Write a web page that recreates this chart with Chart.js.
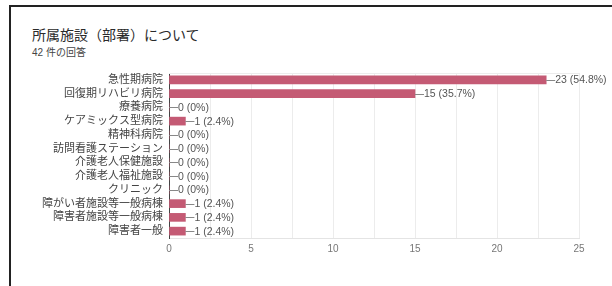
<!DOCTYPE html>
<html>
<head>
<meta charset="utf-8">
<script src="https://cdn.jsdelivr.net/npm/chart.js@4"></script>
<style>
  html, body { margin: 0; padding: 0; background: #fff; }
  body { width: 612px; height: 286px; position: relative; overflow: hidden;
         font-family: "Liberation Sans", "Noto Sans CJK JP", sans-serif; }
  .frame { position: absolute; left: 9px; top: 5px; width: 620px; height: 300px;
           border-top: 2px solid #222; border-left: 2px solid #222; }
  .title { position: absolute; left: 32px; top: 24px; font-size: 14px; color: #2a2a2a; }
  .sub { position: absolute; left: 32px; top: 44px; font-size: 10px; color: #444; }
  #wrap { position: absolute; left: 0; top: 0; width: 612px; height: 286px; }
</style>
</head>
<body>
<div class="frame"></div>
<div class="title">所属施設（部署）について</div>
<div class="sub">42 件の回答</div>
<div id="wrap"><canvas id="chart"></canvas></div>
<script>
/* ── data ── */
const categories = [
  '急性期病院', '回復期リハビリ病院', '療養病院', 'ケアミックス型病院', '精神科病院',
  '訪問看護ステーション', '介護老人保健施設', '介護老人福祉施設', 'クリニック',
  '障がい者施設等一般病棟', '障害者施設等一般病棟', '障害者一般'
];
const counts = [23, 15, 0, 1, 0, 0, 0, 0, 0, 1, 1, 1];
const totalResponses = 42;
const xTicks = [0, 5, 10, 15, 20, 25];

const FONT = '"Liberation Sans", "Noto Sans CJK JP", sans-serif';

// "23 (54.8%)" labels with a short leader line after each bar
const valueLabels = {
  id: 'valueLabels',
  afterDatasetsDraw(chart) {
    const ctx = chart.ctx;
    const meta = chart.getDatasetMeta(0);
    ctx.save();
    ctx.font = '10.5px ' + FONT;
    ctx.textBaseline = 'middle';
    meta.data.forEach((bar, i) => {
      const v = counts[i];
      const pct = parseFloat((v / totalResponses * 100).toFixed(1));
      const x = bar.x, y = bar.y;
      ctx.strokeStyle = '#888';
      ctx.lineWidth = 1;
      ctx.beginPath();
      ctx.moveTo(x, Math.round(y) + 0.5);
      ctx.lineTo(x + 9, Math.round(y) + 0.5);
      ctx.stroke();
      ctx.fillStyle = '#555';
      ctx.fillText(v + ' (' + pct + '%)', x + 9, y + 0.5);
    });
    ctx.restore();
  }
};

// light frame line along the top of the plot area
const plotTop = {
  id: 'plotTop',
  beforeDatasetsDraw(chart) {
    const { ctx, chartArea: a } = chart;
    ctx.save();
    ctx.strokeStyle = '#ececec';
    ctx.lineWidth = 1;
    ctx.beginPath();
    ctx.moveTo(a.left, a.top + 0.5);
    ctx.lineTo(a.right, a.top + 0.5);
    ctx.stroke();
    ctx.restore();
  }
};

new Chart(document.getElementById('chart'), {
  type: 'bar',
  data: {
    labels: categories,
    datasets: [{
      data: counts,
      backgroundColor: '#c45a74',
      barThickness: 8,
      borderWidth: 0
    }]
  },
  options: {
    indexAxis: 'y',
    responsive: true,
    maintainAspectRatio: false,
    animation: false,
    layout: { padding: { left: 0, right: 33, top: 73, bottom: 28 } },
    plugins: { legend: { display: false }, tooltip: { enabled: false } },
    scales: {
      x: {
        min: 0, max: 25,
        afterFit: s => { s.height = 20; },
        afterBuildTicks: s => { s.ticks = []; for (let v = 0; v <= 25; v += 2.5) s.ticks.push({ value: v }); },
        ticks: {
          color: '#777',
          font: { size: 10, family: FONT },
          padding: 5,
          autoSkip: false,
          maxRotation: 0,
          callback: v => xTicks.includes(v) ? v : ''
        },
        grid: { color: '#ececec', drawTicks: false },
        border: { color: '#e4e4e4' }
      },
      y: {
        afterFit: s => { s.width = 169; },
        ticks: {
          color: '#444',
          font: { size: 11, family: FONT },
          padding: 6,
          autoSkip: false
        },
        grid: { display: false, drawTicks: false },
        border: { color: '#444' }
      }
    }
  },
  plugins: [plotTop, valueLabels]
});
</script>
</body>
</html>
